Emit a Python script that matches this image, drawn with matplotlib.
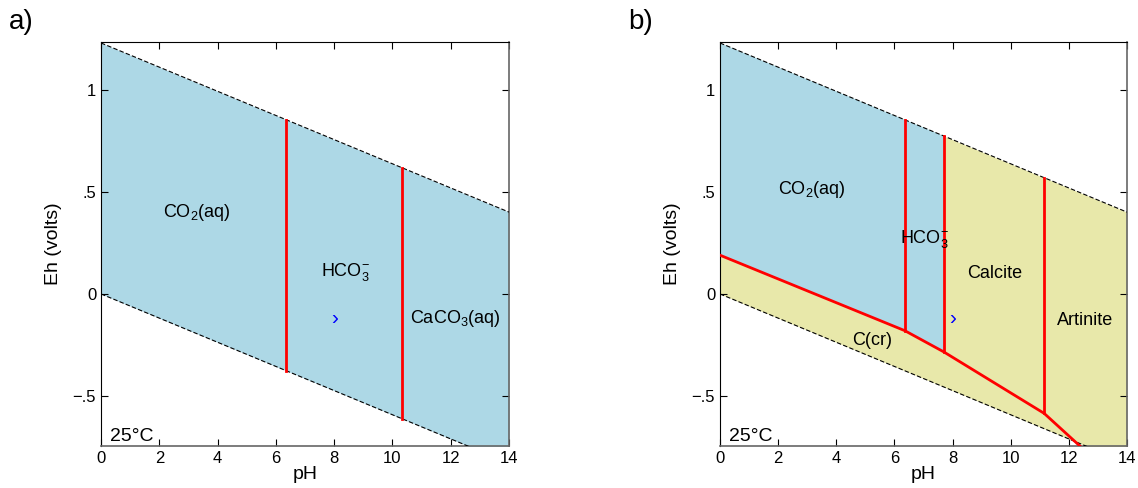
import numpy as np
import matplotlib
matplotlib.use("Agg")
import matplotlib.pyplot as plt

plt.rcParams['font.family'] = ['Liberation Sans', 'DejaVu Sans']
plt.rcParams['mathtext.fontset'] = 'custom'
plt.rcParams['mathtext.rm'] = 'Liberation Sans'
plt.rcParams['mathtext.it'] = 'Liberation Sans:italic'

# water stability limits (Eh = a + b*pH)
water_upper = (1.23, -0.0592)
water_lower = (0.0, -0.0592)

# panel a: vertical boundaries (pH)
fence_a = [6.35, 10.33]
labels_a = ['CO$_2$(aq)', 'HCO$_3^{-}$', 'CaCO$_3$(aq)']
label_pos_a = [(3.3, 0.40), (8.4, 0.11), (12.15, -0.12)]

# panel b: C(cr) boundary (pH, Eh)
ccr_ph = [0.0, 6.36, 7.70, 11.15, 12.38]
ccr_eh = [0.19, -0.18, -0.284, -0.585, -0.745]
fence_b = [6.36, 7.70, 11.15]
labels_b = ['CO$_2$(aq)', 'HCO$_3^{-}$', 'Calcite', 'Artinite', 'C(cr)']
label_pos_b = [(3.17, 0.51), (7.05, 0.27), (9.46, 0.10), (12.56, -0.13), (5.23, -0.23)]

marker_pt = (8.0, -0.12)

blue = '#ADD8E6'
yellow = '#E8E8AA'
ylim = (-0.745, 1.235)


def wline(c, ph):
    return c[0] + c[1] * np.asarray(ph)


def setup(ax, tag):
    ax.set_xlim(0, 14)
    ax.set_ylim(*ylim)
    ph = np.linspace(0, 14, 200)
    ax.plot(ph, wline(water_upper, ph), 'k--', lw=0.8, dashes=(4, 2), zorder=3)
    ax.plot(ph, wline(water_lower, ph), 'k--', lw=0.8, dashes=(4, 2), zorder=3)
    ax.set_xticks(range(0, 15, 2))
    ax.set_yticks([-0.5, 0, 0.5, 1])
    ax.set_yticklabels(['\u2212.5', '0', '.5', '1'])
    ax.tick_params(direction='in', top=True, right=True, labelsize=12, length=5)
    ax.set_xlabel('pH', fontsize=14, labelpad=0)
    ax.set_ylabel('Eh (volts)', fontsize=14, labelpad=8)
    ax.text(0.3, -0.72, '25\u00b0C', fontsize=14)
    ax.text(*marker_pt, '\u203a', color='blue', fontsize=15, ha='center', va='center')
    for s in ['bottom', 'right']:
        ax.spines[s].set_color('#666666')
        ax.spines[s].set_linewidth(1.2)
    ax.text(-0.225, 1.05, tag, transform=ax.transAxes, fontsize=20, va='center')
    return ph


fig = plt.figure(figsize=(11.38, 4.88), dpi=100)

ax1 = fig.add_axes([0.0888, 0.0861, 0.3585, 0.8279])
ph = setup(ax1, 'a)')
ax1.fill_between(ph, wline(water_lower, ph), wline(water_upper, ph), color=blue, lw=0, zorder=1)
for f in fence_a:
    ax1.plot([f, f], [wline(water_lower, f), wline(water_upper, f)], color='red', lw=2, zorder=4)
for t, (x, y) in zip(labels_a, label_pos_a):
    ax1.text(x, y, t, fontsize=13, ha='center', va='center', zorder=5)

ax2 = fig.add_axes([0.6327, 0.0861, 0.3576, 0.8279])
ph = setup(ax2, 'b)')
ax2.fill_between(ph, wline(water_lower, ph), wline(water_upper, ph), color=yellow, lw=0, zorder=1)
# aqueous carbon field above C(cr) boundary, left of calcite
edge = fence_b[1]
poly_x = ccr_ph[:3] + [edge, 0.0]
poly_y = ccr_eh[:3] + [float(wline(water_upper, edge)), water_upper[0]]
ax2.fill(poly_x, poly_y, color=blue, lw=0, zorder=2)
ax2.plot(ccr_ph, ccr_eh, color='red', lw=2, zorder=4)
for f in fence_b:
    bottom = np.interp(f, ccr_ph, ccr_eh)
    ax2.plot([f, f], [bottom, wline(water_upper, f)], color='red', lw=2, zorder=4)
for t, (x, y) in zip(labels_b, label_pos_b):
    ax2.text(x, y, t, fontsize=13, ha='center', va='center', zorder=5)

fig.savefig('out.png', dpi=100)
